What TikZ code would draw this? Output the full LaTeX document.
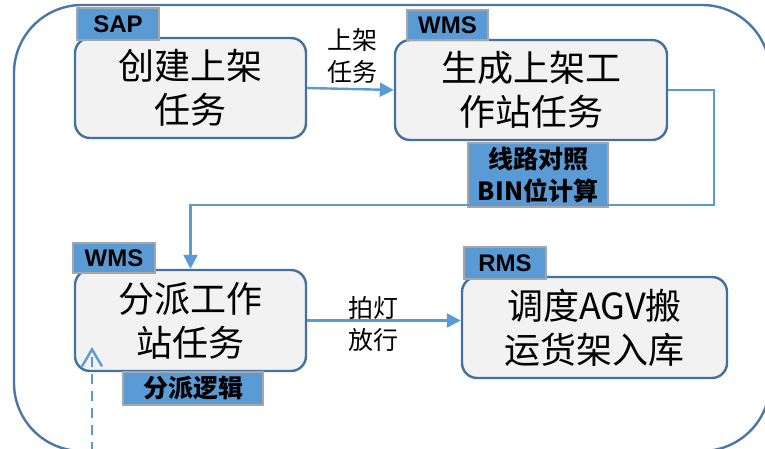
\documentclass[tikz,border=0pt]{standalone}
\usepackage{fontspec}
\setmainfont{Liberation Sans}
\newfontfamily\cjk{Noto Sans CJK SC}
\usetikzlibrary{arrows.meta,calc}
\definecolor{tagblue}{HTML}{5B9BD5}
\definecolor{tagedge}{HTML}{A6A6A6}
\definecolor{boxedge}{HTML}{41719C}
\definecolor{boxfill}{HTML}{F2F2F2}
\definecolor{arrowblue}{HTML}{5B9BD5}
\definecolor{outeredge}{HTML}{4A78A6}
\tikzset{
  taskbox/.style={draw=boxedge, fill=boxfill, line width=2.4pt, rounded corners=15pt,
    inner sep=0pt, align=center, font=\cjk\fontsize{36}{44}\selectfont},
  tagbox/.style={draw=tagedge, fill=tagblue, line width=1.2pt, inner sep=0pt,
    align=center},
  tagfont/.style={font=\bfseries\fontsize{24}{28}\selectfont},
  tagcjk/.style={font=\cjk\bfseries\fontsize{25}{32}\selectfont},
  edgelabel/.style={align=center, inner sep=0pt, font=\cjk\fontsize{25}{32}\selectfont},
  flow/.style={draw=arrowblue, line width=2.4pt, -{Triangle[length=14pt,width=14pt]}},
  back/.style={draw=arrowblue, line width=2.4pt, dash pattern=on 10pt off 7pt,
    -{Straight Barb[length=17pt,width=20pt,line width=2.4pt]}}
}
\begin{document}
\begin{tikzpicture}[x=1pt,y=-1pt]
\useasboundingbox (0,0) rectangle (765,449);
\clip (0,0) rectangle (765,449);
\draw[outeredge, line width=2.4pt, rounded corners=68pt] (14,5) rectangle (770,451);

\node[taskbox, minimum width=231pt, minimum height=100pt] (b1) at (190.5,88) {创建上架\\任务};
\node[taskbox, minimum width=272pt, minimum height=100pt] (b2) at (531,90) {生成上架工\\作站任务};
\node[taskbox, minimum width=231pt, minimum height=101pt] (b3) at (190.5,320.5) {分派工作\\站任务};
\node[taskbox, minimum width=265pt, minimum height=101pt] (b4) at (594.5,327.5) {调度AGV搬\\运货架入库};

\node[tagbox, tagfont, minimum width=82pt, minimum height=32pt] (tsap) at (118,24) {SAP};
\node[tagbox, tagfont, minimum width=81pt, minimum height=30pt] (twms1) at (447.5,25) {WMS};
\node[tagbox, tagcjk, minimum width=140pt, minimum height=64pt] (tline) at (538,175) {线路对照\\BIN位计算};
\node[tagbox, tagfont, minimum width=82pt, minimum height=30pt] (twms2) at (114,258) {WMS};
\node[tagbox, tagcjk, minimum width=140pt, minimum height=33pt] (tlogic) at (193,388.5) {分派逻辑};
\node[tagbox, tagfont, minimum width=82pt, minimum height=32pt] (trms) at (505,263) {RMS};

\node[edgelabel] (l1) at (352,56) {上架\\任务};
\node[edgelabel] (l2) at (373,324) {拍灯\\放行};

\draw[flow] (b1.east) -- (b2.west);
\coordinate (turn) at (714,205);
\draw[flow] (b2.east) -| (turn) -| (b3.north);
\draw[flow] (b3.east) -- (b3.east -| b4.west);
\coordinate (loopstart) at (92,452);
\coordinate (loopend) at (92,347);
\draw[back] (loopstart) -- (loopend);
\end{tikzpicture}
\end{document}
